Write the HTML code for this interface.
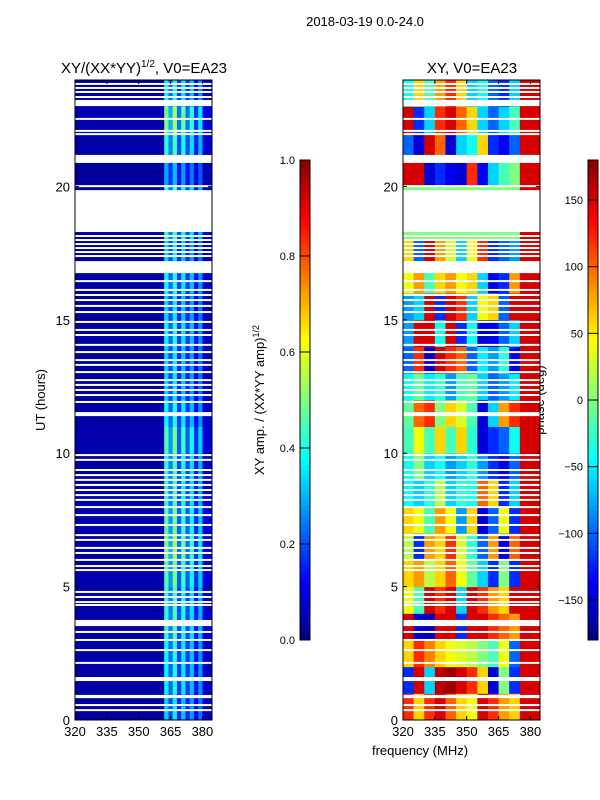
<!DOCTYPE html>
<html><head><meta charset="utf-8"><style>
html,body{margin:0;padding:0;background:#fff;}
svg{display:block;font-family:"Liberation Sans",sans-serif;}
</style></head><body>
<svg id="fig" width="600" height="800" viewBox="0 0 600 800">
<text x="365" y="26" font-size="13" text-anchor="middle">2018-03-19 0.0-24.0</text>
<text x="144" y="73" font-size="15" text-anchor="middle">XY/(XX*YY)<tspan font-size="10" dy="-6">1/2</tspan><tspan dy="6">, V0=EA23</tspan></text>
<text x="472" y="73" font-size="15" text-anchor="middle">XY, V0=EA23</text>
<text transform="translate(45,400) rotate(-90)" font-size="13" text-anchor="middle">UT (hours)</text>
<text transform="translate(264,400) rotate(-90)" font-size="13" text-anchor="middle">XY amp. / (XX*YY amp)<tspan font-size="9" dy="-5">1/2</tspan></text>
<text transform="translate(544,400) rotate(-90)" font-size="13" text-anchor="middle">phase (deg)</text>
<text x="420" y="755" font-size="13" text-anchor="middle">frequency (MHz)</text>
<g id="left"></g>
<g id="right"></g>
<g id="axes"></g>
</svg>
<script>
// ---- data ----
const hourTicks = [0,5,10,15,20];
const freqTicks = [320,335,350,365,380];
const ampFreqEdges = [320,362,364,366,368,370,372,374,376,378,380,384.5];
const ampProfile = [0.04,0.42,0.25,0.45,0.2,0.4,0.2,0.35,0.15,0.3,0.08];
const ampHourScale = [0.8,0.9,0.9,1.0,1.0,1.1,1.2,1.1,1.0,1.0,1.1,0.9,0.8,0.8,0.9,0.8,0.9,0.8,1,1,0.7,1.0,1.2,0.9];
const phaseFreqEdges = [320,325,330,335,340,345,350,355,360,365,370,375,380,384.5];
const phaseRows = [
[120,60,120,150,100,60,40,150,120,80,60,150,150],
[-120,150,-60,160,170,150,120,60,-150,0,-120,150,150],
[60,120,90,60,40,30,20,0,-20,40,-100,150,150],
[150,-150,-160,150,150,-120,150,150,120,100,80,150,150],
[40,-20,150,120,150,-60,150,120,80,60,150,150,150],
[60,80,20,60,100,40,-10,-60,-120,0,-120,150,150],
[20,-120,80,60,120,30,-30,-100,80,-140,100,150,150],
[60,40,-20,80,40,-80,60,-150,-100,40,-120,150,150],
[-40,-60,-30,20,-60,-30,-40,100,60,-120,-60,150,150],
[-40,0,-60,-40,-80,-60,-30,-80,-120,-140,-100,150,150],
[-20,40,-20,60,-20,60,-30,-150,-120,-100,-40,150,150],
[-10,100,120,0,60,30,-20,-150,-60,80,120,150,150],
[-40,-10,-50,-30,-80,-20,-10,-60,-100,-80,-50,150,150],
[-100,120,-150,150,120,100,-100,-50,-80,-30,-140,150,150],
[-80,150,150,-40,150,-120,-40,-150,-140,-100,-60,150,150],
[-80,-60,150,-120,150,120,-60,40,60,-100,150,150,150],
[40,80,-20,60,80,40,60,-60,-140,-120,80,150,150],
[60,-100,150,80,30,-60,40,120,-120,-100,-80,150,150],
[0,0,0,0,0,0,0,0,0,0,0,150,150],
[0,0,0,0,0,0,0,0,0,0,0,150,150],
[150,150,-150,-120,-140,-150,120,-140,-60,-20,0,150,150],
[-100,-150,150,100,-150,-60,-40,60,-120,-140,-100,150,150],
[150,-120,-60,120,150,100,60,-60,-100,-60,-20,150,150],
[-40,60,-20,80,120,60,-60,-40,-100,-120,-60,150,150]];
const gapBands = [[23.01,23.24],[20.88,21.18],[18.29,19.86],[16.75,17.2],[11.39,11.54],[3.52,3.75],[1.46,1.61],[0.82,0.94]];
const gapLines = [23.84,23.69,23.54,23.35,22.53,22.08,21.96,20.01,18.14,17.99,17.84,17.69,17.54,17.39,16.45,16.12,15.93,15.74,15.52,15.29,14.92,14.62,14.43,14.06,13.79,13.49,13.31,13.04,12.74,12.56,12.37,12.18,11.92,9.93,9.75,9.37,9.18,9.0,8.81,8.62,8.43,8.25,7.98,7.68,7.31,6.93,6.75,6.45,6.26,6.0,5.77,5.62,4.8,4.61,4.42,4.31,3.3,3.0,2.62,2.14,0.56,0.37];
const ampTicks = [0.0,0.2,0.4,0.6,0.8,1.0];
const phaseTicks = [-150,-100,-50,0,50,100,150];
// ---- geometry ----
const NS='http://www.w3.org/2000/svg';
const Y0=720, PPH=26.68;
const yH = h => Y0 - h*PPH;
const xL = f => 75 + (f-320)*(137/64.5);
const xR = f => 403 + (f-320)*(137/64.5);
function jet(x){x=Math.max(0,Math.min(1,x));const c=v=>Math.round(255*Math.max(0,Math.min(1,v)));
return `rgb(${c(1.5-Math.abs(4*x-3))},${c(1.5-Math.abs(4*x-2))},${c(1.5-Math.abs(4*x-1))})`;}
function mk(tag,attrs,parent){const e=document.createElementNS(NS,tag);for(const k in attrs)e.setAttribute(k,attrs[k]);parent.appendChild(e);return e;}
const L=document.getElementById('left'), R=document.getElementById('right'), A=document.getElementById('axes');
for(let h=0;h<24;h++){
  for(let i=0;i<ampProfile.length;i++){
    const r=mk('rect',{x:xL(ampFreqEdges[i]),y:yH(h+1),width:xL(ampFreqEdges[i+1])-xL(ampFreqEdges[i])+0.5,height:PPH+0.5,fill:jet(Math.min(1,ampProfile[i]*ampHourScale[h]))},L);
    
    
  }
  for(let i=0;i<phaseRows[h].length;i++){
    const r=mk('rect',{x:xR(phaseFreqEdges[i]),y:yH(h+1),width:xR(phaseFreqEdges[i+1])-xR(phaseFreqEdges[i])+0.5,height:PPH+0.5,fill:jet((phaseRows[h][i]+180)/360)},R);
    
    
  }
}
function gaps(xs,par){
  gapBands.forEach(b=>{const r=mk('rect',{x:xs,y:yH(b[1]),width:137,height:(b[1]-b[0])*PPH,fill:'#fff'},par);
    
    });
  gapLines.forEach(h=>{const r=mk('rect',{x:xs,y:yH(h)-1,width:137,height:2,fill:'#fff'},par);
    
    });
}
gaps(75,L); gaps(403,R);
function frame(x0,name){
  const f=mk('rect',{x:x0,y:80,width:137,height:640,fill:'none',stroke:'#000','stroke-width':1},A);
  
  
  const xs = x0===75?xL:xR;
  hourTicks.forEach(h=>{const y=yH(h);
    mk('line',{x1:x0,x2:x0+4,y1:y,y2:y,stroke:'#000'},A);mk('line',{x1:x0+137,x2:x0+133,y1:y,y2:y,stroke:'#000'},A);
    const t=mk('text',{x:x0-5,y:y+5,'font-size':13,'text-anchor':'end'},A);t.textContent=h;
    
    });
  freqTicks.forEach(f=>{const x=xs(f);
    mk('line',{x1:x,x2:x,y1:720,y2:716,stroke:'#000'},A);mk('line',{x1:x,x2:x,y1:80,y2:84,stroke:'#000'},A);
    const t=mk('text',{x:x,y:736,'font-size':13,'text-anchor':'middle'},A);t.textContent=f;
    
    });
}
frame(75,'left-plot-frame'); frame(403,'right-plot-frame');
function cbar(x0,lo,hi,ticks,name){
  const g=mk('g',{},A);
  
  
  for(let i=0;i<96;i++){mk('rect',{x:x0,y:640-(i+1)*5,width:10,height:5.5,fill:jet((i+0.5)/96)},g);}
  mk('rect',{x:x0,y:160,width:10,height:480,fill:'none',stroke:'#000'},g);
  ticks.forEach(v=>{const y=640-(v-lo)/(hi-lo)*480;
    mk('line',{x1:x0,x2:x0+10,y1:y,y2:y,stroke:'#000'},g);
    const t=mk('text',{x:x0-5,y:y+4,'font-size':11,'text-anchor':'end'},g);
    t.textContent = (lo===0? v.toFixed(1) : (v<0?'\u2212'+(-v):v));
    
    });
}
cbar(300,0,1,ampTicks,'amplitude-colorbar');
cbar(588,-180,180,phaseTicks,'phase-colorbar');
</script>
</body></html>
